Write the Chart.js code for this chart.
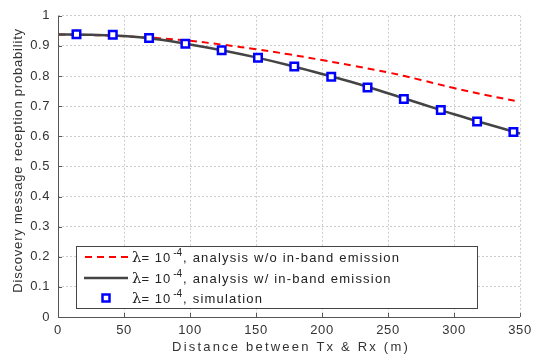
<!DOCTYPE html>
<html lang="en">
<head>
  <meta charset="UTF-8">
  <title>Discovery message reception probability</title>
  <script src="https://cdn.jsdelivr.net/npm/chart.js"></script>
  <style>
    body {
      margin: 0;
      padding: 0;
      background-color: #fff;
    }
    #chart-container {
      width: 539px;
      height: 356px;
    }
  </style>
</head>
<body>

<div id="chart-container">
  <canvas id="chart" width="539" height="356"></canvas>
</div>

<script>
  // distances (m) and probabilities
  const xTicks = [0, 50, 100, 150, 200, 250, 300, 350];
  const yTicks = ['0', '0.1', '0.2', '0.3', '0.4', '0.5', '0.6', '0.7', '0.8', '0.9', '1'];

  const noIbeDist = [0, 25, 50, 75, 100, 125, 150, 175, 200, 225, 250, 275, 300, 325, 346];
  const noIbeProb = [0.938, 0.936, 0.932, 0.926, 0.917, 0.904, 0.889, 0.872, 0.853, 0.833, 0.812, 0.787, 0.760, 0.736, 0.718];

  const ibeDist = [0, 25, 50, 75, 100, 125, 150, 175, 200, 225, 250, 275, 300, 325, 350];
  const ibeProb = [0.938, 0.937, 0.933, 0.922, 0.905, 0.885, 0.862, 0.836, 0.807, 0.777, 0.743, 0.708, 0.673, 0.641, 0.609];

  const simDist = [14, 41.5, 69, 96.5, 124, 151.5, 179, 207, 234.5, 262, 290, 317.5, 345];
  const simProb = [0.939, 0.937, 0.926, 0.907, 0.886, 0.861, 0.832, 0.798, 0.762, 0.724, 0.687, 0.649, 0.614];

  const legendRows = [
    ', analysis w/o in-band emission',
    ', analysis w/ in-band emission',
    ', simulation'
  ];

  const FONT = '"Liberation Sans", Arial, sans-serif';
  const toPts = (xs, ys) => xs.map((x, i) => ({ x: x, y: ys[i] }));

  const extras = {
    id: 'extras',
    beforeDraw(chart) {
      chart.ctx.letterSpacing = '0.6px';
    },
    afterDraw(chart) {
      const ctx = chart.ctx;
      const xs = chart.scales.x, ys = chart.scales.y;
      const area = chart.chartArea;
      ctx.save();

      // solid axis lines and inward tick marks
      ctx.strokeStyle = '#555';
      ctx.lineWidth = 1;
      ctx.setLineDash([]);
      ctx.beginPath();
      ctx.moveTo(area.left + 0.5, area.top);
      ctx.lineTo(area.left + 0.5, area.bottom + 0.5);
      ctx.lineTo(area.right, area.bottom + 0.5);
      xTicks.forEach(v => {
        const px = Math.round(xs.getPixelForValue(v)) + 0.5;
        ctx.moveTo(px, area.bottom);
        ctx.lineTo(px, area.bottom - 4);
      });
      yTicks.forEach((t, i) => {
        const py = Math.round(ys.getPixelForValue(i / 10)) + 0.5;
        ctx.moveTo(area.left, py);
        ctx.lineTo(area.left + 4, py);
      });
      ctx.stroke();

      // axis titles
      ctx.fillStyle = '#333';
      ctx.font = '13px ' + FONT;
      ctx.textAlign = 'center';
      ctx.textBaseline = 'middle';
      ctx.letterSpacing = '2.2px';
      ctx.fillText('Distance between Tx & Rx (m)', (area.left + area.right) / 2 + 2, 347);
      ctx.save();
      ctx.translate(18, (area.top + area.bottom) / 2 - 6);
      ctx.rotate(-Math.PI / 2);
      ctx.letterSpacing = '0.8px';
      ctx.fillText('Discovery message reception probability', 0, 0);
      ctx.restore();

      // legend box
      const bx = 76.5, by = 246.5, bw = 401, bh = 62;
      ctx.fillStyle = '#fff';
      ctx.fillRect(bx, by, bw, bh);
      ctx.strokeStyle = '#444';
      ctx.lineWidth = 1;
      ctx.strokeRect(bx, by, bw, bh);

      const rowY = [257, 278, 298];
      // row 1: red dashed
      ctx.strokeStyle = '#ff0000';
      ctx.lineWidth = 2;
      ctx.setLineDash([7, 5]);
      ctx.beginPath();
      ctx.moveTo(85, rowY[0]);
      ctx.lineTo(128, rowY[0]);
      ctx.stroke();
      ctx.setLineDash([]);
      // row 2: dark solid
      ctx.strokeStyle = '#444';
      ctx.lineWidth = 2.5;
      ctx.beginPath();
      ctx.moveTo(84, rowY[1]);
      ctx.lineTo(128, rowY[1]);
      ctx.stroke();
      // row 3: square
      ctx.strokeStyle = '#0000ff';
      ctx.lineWidth = 2.5;
      ctx.strokeRect(102.5, rowY[2] - 3.5, 7, 7);

      ctx.fillStyle = '#222';
      ctx.textAlign = 'left';
      ctx.textBaseline = 'alphabetic';
      rowY.forEach((y, i) => {
        let x = 132;
        ctx.letterSpacing = '0px';
        ctx.font = '15px "DejaVu Serif", serif';
        ctx.fillText('\u03bb', x, y + 5);
        x += ctx.measureText('\u03bb').width;
        ctx.font = '13px ' + FONT;
        ctx.letterSpacing = '1px';
        ctx.fillText('= 10', x, y + 5);
        x += ctx.measureText('= 10').width + 2;
        ctx.font = '10px ' + FONT;
        ctx.letterSpacing = '0px';
        ctx.fillText('-4', x, y - 1);
        x += ctx.measureText('-4').width + 1;
        ctx.font = '13px ' + FONT;
        ctx.letterSpacing = '1.2px';
        ctx.fillText(legendRows[i], x, y + 5);
      });

      ctx.restore();
    }
  };

  new Chart(document.getElementById('chart'), {
    type: 'scatter',
    data: {
      datasets: [{
        label: 'no in-band emission',
        data: toPts(noIbeDist, noIbeProb),
        showLine: true,
        borderColor: '#ff0000',
        borderWidth: 2,
        borderDash: [7, 5],
        pointRadius: 0,
        tension: 0.4,
        order: 3
      }, {
        label: 'in-band emission',
        data: toPts(ibeDist, ibeProb),
        showLine: true,
        borderColor: '#444444',
        borderWidth: 2.5,
        pointRadius: 0,
        tension: 0.4,
        order: 2
      }, {
        label: 'simulation',
        data: toPts(simDist, simProb),
        showLine: false,
        pointStyle: 'rect',
        pointRadius: 5.3,
        borderColor: '#0000ff',
        backgroundColor: '#ffffff',
        borderWidth: 2.5,
        order: 1
      }]
    },
    options: {
      responsive: false,
      animation: false,
      layout: { padding: { top: 14, right: 19, left: 0, bottom: 0 } },
      plugins: {
        legend: { display: false },
        tooltip: { enabled: false }
      },
      scales: {
        x: {
          type: 'linear',
          min: 0,
          max: 350,
          afterBuildTicks: s => { s.ticks = xTicks.map(v => ({ value: v })); },
          afterFit: s => { s.height = 39; },
          ticks: {
            color: '#333',
            font: { size: 13, family: FONT },
            padding: 6,
            maxRotation: 0
          },
          grid: { color: '#cccccc', drawTicks: false, lineWidth: 1 },
          border: { display: false, dash: [2, 2] }
        },
        y: {
          min: 0,
          max: 1,
          afterBuildTicks: s => { s.ticks = yTicks.map((t, i) => ({ value: i / 10 })); },
          afterFit: s => { s.width = 58; },
          ticks: {
            color: '#333',
            font: { size: 13, family: FONT },
            padding: 8,
            callback: (v, i) => yTicks[i]
          },
          grid: { color: '#cccccc', drawTicks: false, lineWidth: 1 },
          border: { display: false, dash: [2, 2] }
        }
      }
    },
    plugins: [extras]
  });
</script>

</body>
</html>
